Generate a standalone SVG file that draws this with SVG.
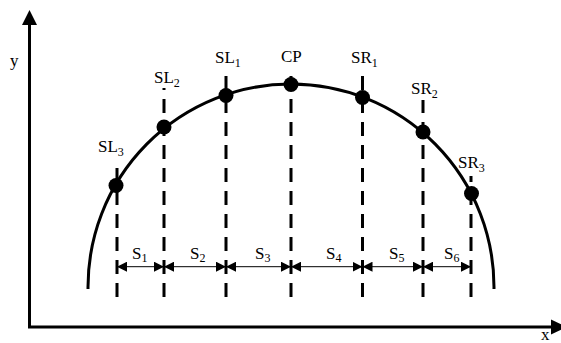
<svg xmlns="http://www.w3.org/2000/svg" width="561" height="343" viewBox="0 0 561 343">
<style>
.axis{stroke:#000;stroke-width:3;fill:none}
.curve{stroke:#000;stroke-width:3;fill:none}
.dash{stroke:#000;stroke-width:3;stroke-dasharray:14 9;fill:none}
.dim{stroke:#000;stroke-width:1;fill:none;marker-start:url(#ah);marker-end:url(#ah)}
.dot{fill:#000}
.t{font-family:'Liberation Serif','DejaVu Serif','Times New Roman',serif;font-size:17px;fill:#000}
.sub{font-size:12px}
</style>
<defs>
<marker id="ah" markerUnits="userSpaceOnUse" markerWidth="10" markerHeight="10" refX="10" refY="5" orient="auto-start-reverse">
<path d="M0,0 L10,5 L0,10 z" fill="#000"/>
</marker>
</defs>
<g id="axes">
<line class="axis" x1="29.5" y1="328" x2="29.5" y2="24"/>
<polygon points="22,25 29.5,10 37,25" fill="#000"/>
<line class="axis" x1="28" y1="327" x2="552" y2="327"/>
<polygon points="551,319.5 567,327 551,334.5" fill="#000"/>
<text class="t" x="10" y="66">y</text>
<text class="t" x="541" y="340">x</text>
</g>
<g id="curve">
<path class="curve" d="M88.01,289 A203,203 0 1 1 493.99,289"/>
</g>
<g id="connectors">
<line class="dash" x1="117" y1="297" x2="117" y2="160"/>
<line class="dash" x1="164" y1="297" x2="164" y2="88"/>
<line class="dash" x1="226" y1="297" x2="226" y2="68"/>
<line class="dash" x1="291" y1="297" x2="291" y2="67"/>
<line class="dash" x1="362.5" y1="297" x2="362.5" y2="67"/>
<line class="dash" x1="423" y1="297" x2="423" y2="100"/>
<line class="dash" x1="471" y1="297" x2="471" y2="176"/>
<line class="dim" x1="117" y1="266.7" x2="164" y2="266.7"/>
<line class="dim" x1="164" y1="266.7" x2="226" y2="266.7"/>
<line class="dim" x1="226" y1="266.7" x2="291" y2="266.7"/>
<line class="dim" x1="291" y1="266.7" x2="362.5" y2="266.7"/>
<line class="dim" x1="362.5" y1="266.7" x2="423" y2="266.7"/>
<line class="dim" x1="423" y1="266.7" x2="471" y2="266.7"/>
</g>
<g id="SL3"><circle class="dot" cx="116" cy="185.5" r="7.5"/><text class="t" x="98" y="152">SL<tspan class="sub" dy="4">3</tspan></text></g>
<g id="SL2"><circle class="dot" cx="164" cy="127" r="7.5"/><text class="t" x="154" y="83">SL<tspan class="sub" dy="4">2</tspan></text></g>
<g id="SL1"><circle class="dot" cx="226" cy="95.5" r="7.5"/><text class="t" x="215" y="63">SL<tspan class="sub" dy="4">1</tspan></text></g>
<g id="CP"><circle class="dot" cx="291" cy="84.5" r="7.5"/><text class="t" x="281" y="62">CP</text></g>
<g id="SR1"><circle class="dot" cx="362.5" cy="97.5" r="7.5"/><text class="t" x="351" y="63">SR<tspan class="sub" dy="4">1</tspan></text></g>
<g id="SR2"><circle class="dot" cx="423" cy="132" r="7.5"/><text class="t" x="411" y="94">SR<tspan class="sub" dy="4">2</tspan></text></g>
<g id="SR3"><circle class="dot" cx="471.5" cy="193.5" r="7.5"/><text class="t" x="458" y="168">SR<tspan class="sub" dy="4">3</tspan></text></g>
<g id="labels">
<text class="t" x="132" y="259">S<tspan class="sub" dy="3">1</tspan></text>
<text class="t" x="190" y="259">S<tspan class="sub" dy="3">2</tspan></text>
<text class="t" x="255" y="259">S<tspan class="sub" dy="3">3</tspan></text>
<text class="t" x="326" y="259">S<tspan class="sub" dy="3">4</tspan></text>
<text class="t" x="389" y="259">S<tspan class="sub" dy="3">5</tspan></text>
<text class="t" x="444" y="259">S<tspan class="sub" dy="3">6</tspan></text>
</g>
</svg>
